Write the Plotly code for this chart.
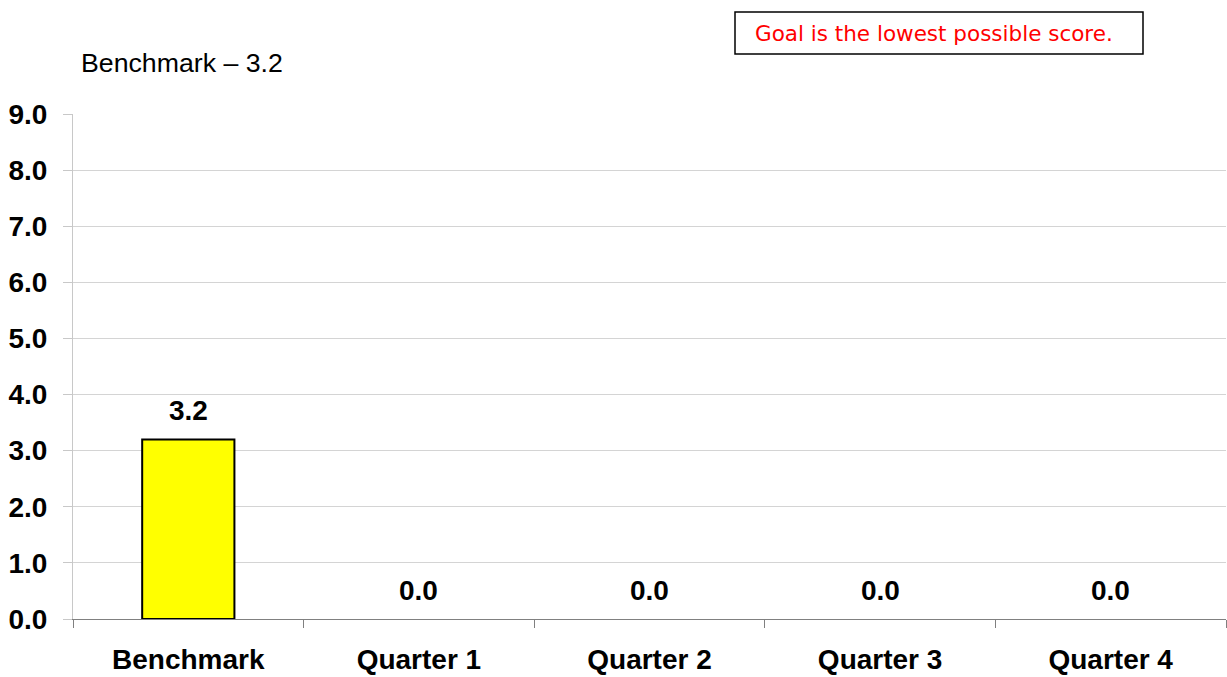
import plotly.graph_objects as go

categories = ["Benchmark", "Quarter 1", "Quarter 2", "Quarter 3", "Quarter 4"]
values = [3.2, 0.0, 0.0, 0.0, 0.0]
y_ticks = [0, 1, 2, 3, 4, 5, 6, 7, 8, 9]
y_tick_labels = [f"{v:.1f}" for v in y_ticks]

PL, PR, PT, PB = 73, 1226, 114, 619  # plot area in page pixels
PW, PH = PR - PL, PB - PT


def px(x):
    return (x - PL) / PW


def py(y):
    return (PB - y) / PH


fig = go.Figure()
fig.add_trace(go.Bar(
    x=categories, y=values, width=0.4,
    marker=dict(color="#FFFF00",
                line=dict(color="black", width=[2 if v > 0 else 0 for v in values])),
    hoverinfo="skip",
))

for c, v in zip(categories, values):
    fig.add_annotation(x=c, y=v, text=f"<b>{v:.1f}</b>", showarrow=False,
                       yshift=29, font=dict(family="Liberation Sans, Arial", size=28, color="black"))

fig.add_annotation(xref="paper", yref="paper", x=px(79), y=py(63), xanchor="left", yanchor="middle",
                   text="Benchmark – 3.2", showarrow=False,
                   font=dict(family="Liberation Sans, Arial", size=26.7, color="black"))

fig.add_shape(type="rect", xref="paper", yref="paper",
              x0=px(735), x1=px(1143), y0=py(54), y1=py(12),
              line=dict(color="black", width=1.5), fillcolor="white")
fig.add_annotation(xref="paper", yref="paper", x=px(753), y=py(33),
                   xanchor="left", yanchor="middle",
                   text="Goal is the lowest possible score.", showarrow=False,
                   font=dict(family="DejaVu Sans, Verdana", size=21.5, color="red"))

fig.update_layout(
    width=1227, height=677,
    margin=dict(l=PL, r=1227 - PR, t=PT, b=677 - PB, autoexpand=False),
    paper_bgcolor="white", plot_bgcolor="white",
    showlegend=False,
    xaxis=dict(
        type="category", tickson="boundaries", ticks="outside", ticklen=8,
        tickcolor="#808080", showline=True, linecolor="#808080", linewidth=1,
        showgrid=False, automargin=False,
        tickfont=dict(family="Liberation Sans, Arial", size=28, color="black"),
        ticklabelstandoff=15,
        tickprefix="<b>", ticksuffix="</b>",
    ),
    yaxis=dict(
        range=[0, 9], tickvals=y_ticks, ticktext=[f"<b>{t}</b>" for t in y_tick_labels],
        ticks="outside", ticklen=9, tickcolor="#c8c8c8",
        showline=True, linecolor="#c8c8c8", linewidth=1,
        showgrid=True, gridcolor="#d4d4d4", gridwidth=1,
        zeroline=False, ticklabelstandoff=10, automargin=False,
        tickfont=dict(family="Liberation Sans, Arial", size=28, color="black"),
    ),
)

fig.write_html("out.html",
               config={"displayModeBar": False},
               post_script="document.body.style.margin='0';document.body.style.overflow='hidden';")
